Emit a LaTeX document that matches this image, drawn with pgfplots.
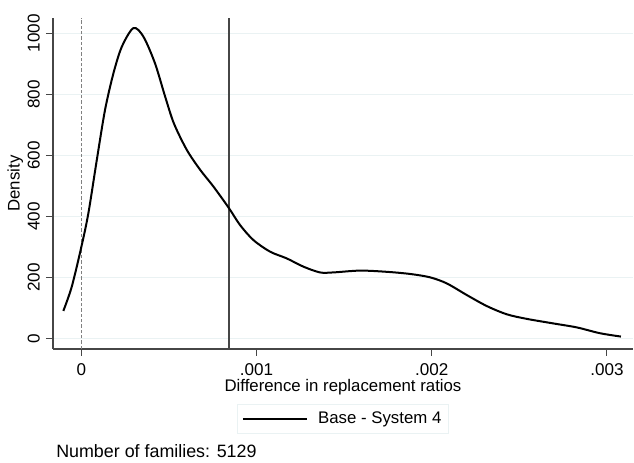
\documentclass[border=0pt]{standalone}
\usepackage{pgfplots}
\pgfplotsset{compat=1.18}
\usepackage{fontspec}
\setmainfont{Liberation Sans}
\definecolor{gridc}{RGB}{234,242,243}
\definecolor{axc}{RGB}{70,70,70}
\begin{document}
\begin{tikzpicture}
\useasboundingbox (0,0) rectangle (475.5pt,347.25pt);
\begin{axis}[
  at={(39.75pt,85.5pt)}, anchor=south west,
  scale only axis, width=435pt, height=248.25pt,
  xmin=-0.000162, xmax=0.003149, ymin=-33.7, ymax=1050,
  axis x line*=bottom, axis y line*=left,
  axis line style={-, axc, line width=0.9pt},
  tick align=outside, major tick length=5.25pt,
  tick style={axc, line width=0.8pt},
  xtick={0,0.001,0.002,0.003}, xticklabels={0,.001,.002,.003},
  ytick={0,200,400,600,800,1000}, yticklabels={0,200,400,600,800,1000},
  scaled x ticks=false,
  /pgf/number format/assume math mode=true,
  ymajorgrids, major grid style={gridc, line width=0.9pt},
  ticklabel style={font=\fontsize{12.8}{14}\selectfont},
  xticklabel style={anchor=north, inner sep=0pt, yshift=-5.5pt},
  yticklabel style={xshift=-4.5pt, rotate=90, anchor=south, inner sep=0pt},
  xlabel={Difference in replacement ratios},
  xlabel style={at={(axis description cs:0.5,-0.1269)}, anchor=base, inner sep=0pt, font=\fontsize{12.6}{14}\selectfont},
  ylabel={Density},
  ylabel style={at={(axis description cs:-0.0512,0.5)}, anchor=south, rotate=0, inner sep=0pt, font=\fontsize{12.6}{14}\selectfont},
  legend style={at={(axis description cs:0.5,-0.1652)}, anchor=north, draw=gridc, line width=0.8pt,
    inner xsep=3pt, inner ysep=4pt, font=\fontsize{12.6}{14}\selectfont,
    nodes={inner sep=2pt, text depth=0.15em}},
  legend image code/.code={\draw[#1] (0pt,0pt) -- (47.7pt,0pt); \path (53.7pt,0pt);},
  legend cell align=left,
  clip=false,
]
\addplot[gray, line width=0.5pt, dash pattern=on 2.5pt off 1.5pt, forget plot] coordinates {(0,-33.7) (0,1050)};
\addplot[axc, line width=0.9pt, forget plot] coordinates {(0.000843,-33.7) (0.000843,1050)};
\addplot[black, line width=1.5pt, smooth, tension=0.5] coordinates {
(-0.000103,91) (-0.000055,170) (0,301) (0.00004,411) (0.000088,585) (0.000135,749)
(0.000183,869) (0.000231,956) (0.000297,1017) (0.000354,989) (0.00042,902) (0.000478,793)
(0.000528,705) (0.000602,618) (0.000678,553) (0.000754,498) (0.000843,427) (0.000906,372)
(0.000982,323) (0.001077,285) (0.001172,263) (0.001267,236) (0.001362,217) (0.001438,217)
(0.001591,223) (0.001743,219) (0.001876,212) (0.00199,201) (0.002086,181) (0.0022,143)
(0.002314,107) (0.002428,80) (0.002542,65) (0.002694,50) (0.002828,37) (0.00296,18)
(0.00308,7)};
\addlegendentry{Base - System 4\hspace{4pt}}
\end{axis}
\node[anchor=base west, inner sep=0pt, font=\fontsize{13.4}{15}\selectfont] at (42pt,3.75pt) {Number of families: 5129};
\end{tikzpicture}
\end{document}
